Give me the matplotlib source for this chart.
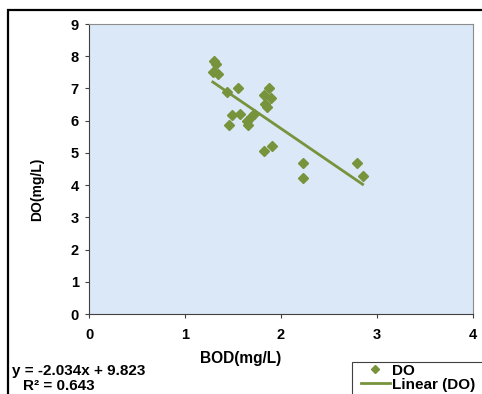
import matplotlib
matplotlib.use("Agg")
import matplotlib.pyplot as plt
from matplotlib.patches import Rectangle
import numpy as np

# BOD vs DO readings (mg/L)
bod = [1.30, 1.32, 1.29, 1.34, 1.44, 1.55, 1.88, 1.82, 1.90, 1.83, 1.85,
       1.49, 1.57, 1.72, 1.69, 1.65, 1.66, 1.46, 1.82, 1.91, 2.23, 2.23,
       2.79, 2.85]
do = [7.85, 7.77, 7.52, 7.45, 6.89, 7.00, 7.00, 6.80, 6.69, 6.52, 6.43,
      6.18, 6.20, 6.20, 6.12, 6.00, 5.87, 5.87, 5.06, 5.21, 4.70, 4.22,
      4.70, 4.28]

# trendline as reported on the chart
slope = -2.034
intercept = 9.823
eq_text = "y = -2.034x + 9.823"
r2_text = "R² = 0.643"

plt.rcParams["font.family"] = ["Liberation Sans", "DejaVu Sans"]
plt.rcParams["font.weight"] = "bold"

green = "#77933c"
W, H = 482, 394

fig = plt.figure(figsize=(4.82, 3.94), dpi=100)
ax = fig.add_axes([89 / W, 1 - 314 / H, 384 / W, 290 / H])
ax.set_facecolor("#dbe8f7")

ax.plot(bod, do, linestyle="none", marker="D", markersize=5.5,
        color=green, label="DO", zorder=3)
xs = np.array([min(bod), max(bod)])
ax.plot(xs, slope * xs + intercept, color=green, linewidth=2,
        label="Linear (DO)", zorder=2)

ax.set_xlim(0, 4)
ax.set_ylim(0, 9)
ax.set_xticks(range(0, 5))
ax.set_yticks(range(0, 10))
for s in ax.spines.values():
    s.set_color("#8c8c8c")
ax.spines["left"].set_color("#404040")
ax.spines["bottom"].set_color("#404040")
ax.tick_params(axis="both", direction="out", length=3, colors="#404040",
               labelcolor="black", labelsize=10.5)
ax.tick_params(axis="y", pad=4.3)
ax.tick_params(axis="x", pad=7)
for lbl in ax.get_xticklabels() + ax.get_yticklabels():
    lbl.set_fontweight("bold")

fig.text(37 / W, 1 - 189 / H, "DO(mg/L)", rotation=90, ha="center",
         va="center", fontsize=10, fontweight="bold")
fig.text(241 / W, 1 - 359 / H, "BOD(mg/L)", ha="center", va="center",
         fontsize=11.2, fontweight="bold")
fig.text(12 / W, 1 - 371 / H, eq_text, ha="left", va="center",
         fontsize=11, fontweight="bold")
fig.text(59 / W, 1 - 386 / H, r2_text, ha="center", va="center",
         fontsize=11, fontweight="bold")

# outer chart border, cut off at right and bottom
fig.patches.append(Rectangle((8 / W, -0.1), 1.2, 1 - 10 / H + 0.1,
                             transform=fig.transFigure, fill=False,
                             edgecolor="black", linewidth=1.6))

# legend box, also running past the right and bottom edges
fig.patches.append(Rectangle((352 / W, -0.1), 0.5, 1 - 362 / H + 0.1,
                             transform=fig.transFigure, fill=False,
                             edgecolor="#404040", linewidth=0.8))
leg = fig.legend(loc="upper left", bbox_to_anchor=(360 / W, 1 - 363 / H),
                 frameon=False, prop={"size": 11, "weight": "bold"},
                 handlelength=1.9, handletextpad=0.15, borderpad=0.05,
                 labelspacing=0.0, borderaxespad=0, markerscale=0.8)

fig.savefig("out.png", dpi=100)
